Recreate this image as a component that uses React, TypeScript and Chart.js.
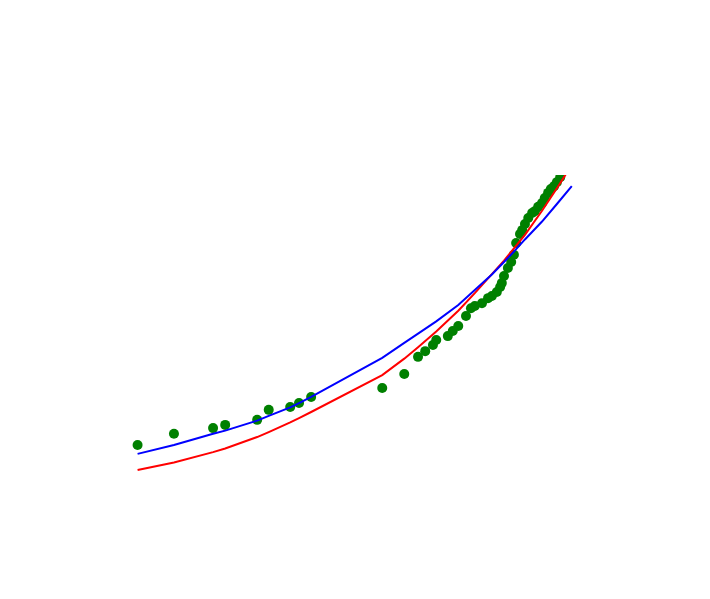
import React, { useEffect, useRef } from "react";
import Chart from "chart.js/auto";

// Observed data (arbitrary units, x and y both 0..100 over the axes box)
const pointX = [
  9.0, 15.6, 22.7, 24.9, 30.7, 32.8, 36.7, 38.3, 40.5, 53.4, 57.4, 59.9, 61.2,
  62.6, 63.2, 65.3, 66.2, 67.2, 68.6, 69.5, 70.2, 71.5, 72.6, 73.3, 74.2, 74.8,
  75.1, 75.5, 76.2, 76.8, 77.3, 77.7, 78.4, 78.8, 79.3, 79.9, 80.6, 81.1, 81.7,
  82.4, 82.9, 83.5, 84.0, 84.6, 85.1, 85.7,
];
const pointY = [
  24.6, 27.7, 29.3, 30.2, 31.6, 34.4, 35.2, 36.3, 38.0, 40.5, 44.4, 49.2, 50.8,
  52.5, 53.9, 55.0, 56.4, 57.8, 60.6, 62.8, 63.4, 64.2, 65.6, 66.2, 67.3, 68.7,
  69.8, 71.8, 74.0, 75.7, 77.7, 81.0, 83.5, 84.6, 86.3, 88.0, 89.4, 89.9, 91.1,
  92.2, 93.6, 95.0, 96.1, 96.9, 98.0, 99.4,
];

// Fitted curves
const fitX = [
  9.0, 15.6, 22.7, 24.9, 30.7, 32.8, 36.7, 38.3, 40.5, 53.4, 57.4, 59.9, 63.2,
  67.2, 70.2, 73.3, 75.5, 77.3, 79.3, 82.4, 85.1, 87.8,
];
const blueFit = [
  22.1, 24.6, 27.7, 28.6, 31.4, 32.7, 35.1, 36.3, 38.0, 48.9, 53.1, 55.7, 59.1,
  63.7, 67.9, 72.2, 75.7, 78.6, 82.0, 87.0, 91.9, 96.9,
];
const redFit = [
  17.6, 19.7, 22.6, 23.6, 26.8, 28.2, 30.9, 32.1, 33.8, 44.1, 48.7, 51.9, 56.3,
  62.1, 67.0, 72.3, 76.1, 79.5, 83.3, 90.0, 96.3, 102.8,
];

const toXY = (xs: number[], ys: number[]) => xs.map((x, i) => ({ x, y: ys[i] }));

export default function App() {
  const ref = useRef<HTMLCanvasElement | null>(null);

  useEffect(() => {
    if (!ref.current) return;
    const chart = new Chart(ref.current, {
      type: "scatter",
      data: {
        datasets: [
          {
            label: "blue",
            data: toXY(fitX, blueFit),
            showLine: true,
            borderColor: "#0000ff",
            borderWidth: 2,
            pointRadius: 0,
            fill: false,
            tension: 0,
            clip: 0,
            order: 1,
          } as any,
          {
            label: "red",
            data: toXY(fitX, redFit),
            showLine: true,
            borderColor: "#ff0000",
            borderWidth: 2,
            pointRadius: 0,
            fill: false,
            tension: 0,
            clip: 0,
            order: 2,
          } as any,
          {
            label: "data",
            data: toXY(pointX, pointY),
            showLine: false,
            backgroundColor: "#008000",
            borderColor: "#008000",
            borderWidth: 0,
            pointRadius: 5,
            clip: 0,
            order: 3,
          } as any,
        ],
      },
      options: {
        responsive: false,
        animation: false,
        layout: { padding: { left: 88, right: 71, top: 175, bottom: 66 } },
        scales: {
          x: { type: "linear", min: 0, max: 100, display: false },
          y: { type: "linear", min: 0, max: 100, display: false },
        },
        plugins: {
          legend: { display: false },
          tooltip: { enabled: false },
        },
      },
    });
    return () => chart.destroy();
  }, []);

  return (
    <div
      style={{
        position: "fixed",
        left: 0,
        top: 0,
        width: 710,
        height: 599,
        background: "#ffffff",
      }}
    >
      <canvas ref={ref} width={710} height={599} style={{ display: "block" }} />
    </div>
  );
}
